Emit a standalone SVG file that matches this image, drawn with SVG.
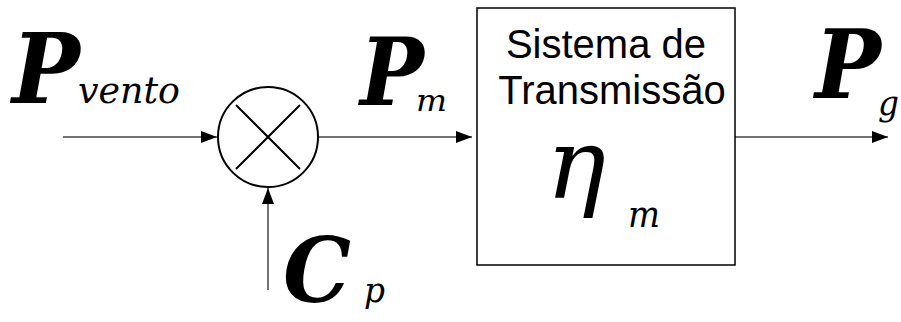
<svg xmlns="http://www.w3.org/2000/svg" width="901" height="322" viewBox="0 0 901 322">
<defs>
<marker id="ah" viewBox="0 0 16 12" refX="16" refY="6" markerWidth="16" markerHeight="12" markerUnits="userSpaceOnUse" orient="auto">
<path d="M0,0 L16,6 L0,12 Z" fill="#000"/>
</marker>
</defs>
<style>
.big{font-family:"DejaVu Serif",serif;font-style:italic;font-weight:bold;fill:#000}
.sub{font-family:"DejaVu Serif",serif;font-style:italic;fill:#000}
.lbl{font-family:"Liberation Sans",Arial,sans-serif;font-size:40px;fill:#000;text-anchor:middle}
.conn{stroke:#444;stroke-width:1.5;fill:none;marker-end:url(#ah)}
</style>
<rect width="901" height="322" fill="#fff"/>
<g id="connectors">
<line class="conn" x1="63" y1="137" x2="217" y2="137"/>
<line class="conn" x1="318" y1="137" x2="472" y2="137"/>
<line class="conn" x1="268" y1="290" x2="268" y2="188"/>
<line class="conn" x1="735" y1="137" x2="888" y2="137"/>
</g>
<g id="sum">
<circle cx="268" cy="137" r="50" fill="#fff" stroke="#000" stroke-width="2"/>
<line x1="236" y1="105" x2="300" y2="169" stroke="#000" stroke-width="2"/>
<line x1="300" y1="105" x2="236" y2="169" stroke="#000" stroke-width="2"/>
</g>
<g id="transmissao">
<rect x="477" y="8" width="258" height="257" fill="#fff" stroke="#000" stroke-width="1.5"/>
<text class="lbl" x="606" y="58">Sistema de</text>
<text class="lbl" x="612" y="104">Transmissão</text>
<text class="sub" x="546" y="198" font-size="98" textLength="60" lengthAdjust="spacingAndGlyphs">η</text>
<text class="sub" x="628" y="227" font-size="38" textLength="32" lengthAdjust="spacingAndGlyphs">m</text>
</g>
<g id="pvento">
<text class="big" x="12" y="103" font-size="97" textLength="68" lengthAdjust="spacingAndGlyphs">P</text>
<text class="sub" x="78" y="103" font-size="38" textLength="102" lengthAdjust="spacingAndGlyphs">vento</text>
</g>
<g id="pm">
<text class="big" x="360" y="105" font-size="93" textLength="64" lengthAdjust="spacingAndGlyphs">P</text>
<text class="sub" x="416" y="111" font-size="30" textLength="31" lengthAdjust="spacingAndGlyphs">m</text>
</g>
<g id="pg">
<text class="big" x="815" y="98" font-size="96" textLength="66" lengthAdjust="spacingAndGlyphs">P</text>
<text class="sub" x="878" y="115" font-size="36" textLength="21" lengthAdjust="spacingAndGlyphs">g</text>
</g>
<g id="cp">
<text class="big" x="283" y="302" font-size="89" textLength="68" lengthAdjust="spacingAndGlyphs">C</text>
<text class="sub" x="364" y="302" font-size="36" textLength="21" lengthAdjust="spacingAndGlyphs">p</text>
</g>
</svg>
